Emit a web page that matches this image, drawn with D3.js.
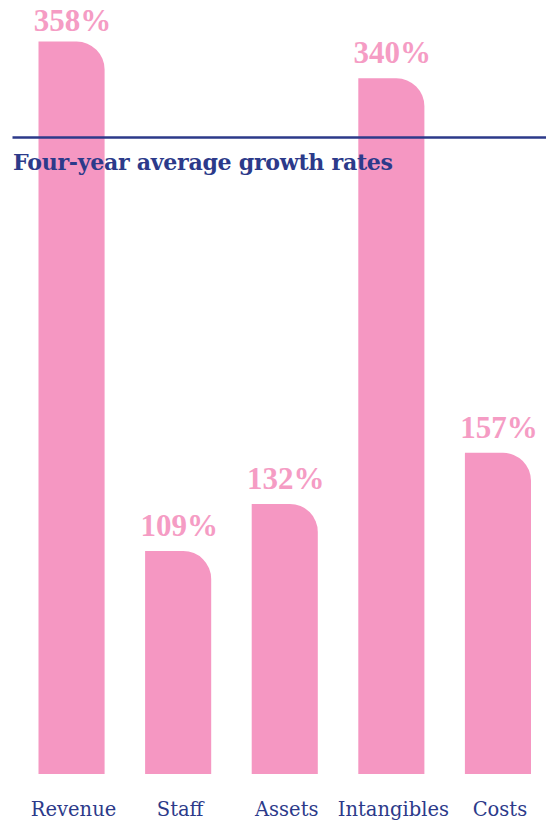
<!DOCTYPE html>
<html><head><meta charset="utf-8">
<script src="https://cdn.jsdelivr.net/npm/d3@7"></script>
<style>html,body{margin:0;padding:0;background:#fff;}svg{display:block;}</style>
</head><body>
<script>
const categories = ["Revenue", "Staff", "Assets", "Intangibles", "Costs"];
const values = [358, 109, 132, 340, 157];
const valueLabels = ["358%", "109%", "132%", "340%", "157%"];
const title = "Four-year average growth rates";

const W = 546, H = 823;
const pink = "#f597c2", pinkText = "#f59cc4", navy = "#2c3a8a";
const svg = d3.select("body").append("svg").attr("width", W).attr("height", H);

const x = d3.scaleBand().domain(categories).range([38.5, 531]).paddingInner(0.38).paddingOuter(0);
const y = d3.scaleLinear().domain([0, 358]).range([774, 41.5]);
const r = 28;

function barPath(x0, w, top, bottom) {
  const rr = Math.min(r, w, bottom - top);
  return `M${x0},${bottom}V${top}H${x0 + w - rr}A${rr},${rr} 0 0 1 ${x0 + w},${top + rr}V${bottom}Z`;
}

svg.append("g").selectAll("path").data(values).join("path")
  .attr("d", (d, i) => barPath(x(categories[i]), x.bandwidth(), y(d), y(0)))
  .attr("fill", pink);

// rule and title
svg.append("line").attr("x1", 12.5).attr("x2", W).attr("y1", 137.5).attr("y2", 137.5)
  .attr("stroke", navy).attr("stroke-width", 2.5);
const t = svg.append("text").attr("x", 13).attr("y", 170).text(title)
  .attr("font-family", "DejaVu Serif").attr("font-weight", "bold").attr("font-size", 22)
  .attr("fill", navy).attr("letter-spacing", -0.3);
const tw = t.node().getComputedTextLength();
t.attr("font-size", 22 * 380 / tw);

svg.append("g").selectAll("text").data(values).join("text")
  .attr("x", (d, i) => x(categories[i]) + x.bandwidth() / 2 + 1)
  .attr("y", d => Math.max(31, y(d) - 15))
  .attr("text-anchor", "middle")
  .attr("font-family", "'Liberation Serif', 'Times New Roman', serif").attr("font-weight", "bold").attr("font-size", 31)
  .attr("fill", pinkText)
  .text((d, i) => valueLabels[i]);

svg.append("g").selectAll("text").data(categories).join("text")
  .attr("x", d => x(d) + x.bandwidth() / 2 + 2)
  .attr("y", 816)
  .attr("text-anchor", "middle")
  .attr("font-family", "DejaVu Serif").attr("font-size", 19.5)
  .attr("fill", navy)
  .text(d => d);
</script>
</body></html>
